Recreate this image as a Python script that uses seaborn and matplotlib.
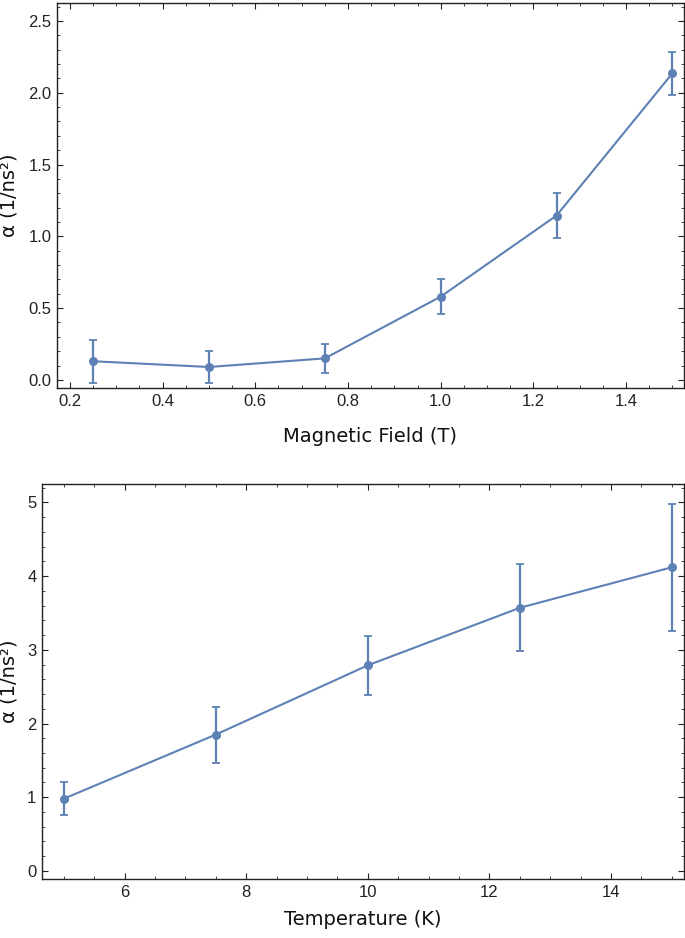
import matplotlib
matplotlib.use("Agg")
import numpy as np
import pandas as pd
import matplotlib.pyplot as plt
import seaborn as sns
from matplotlib.ticker import MultipleLocator, FormatStrFormatter

# === Data ===
field = [0.25, 0.50, 0.75, 1.00, 1.25, 1.50]
alpha_field = [0.13, 0.09, 0.15, 0.58, 1.145, 2.135]
err_field = [0.15, 0.11, 0.10, 0.12, 0.16, 0.15]

temperature = [5.0, 7.5, 10.0, 12.5, 15.0]
alpha_temp = [0.98, 1.85, 2.79, 3.57, 4.12]
err_temp = [0.225, 0.38, 0.40, 0.59, 0.86]

COLOR = '#5E81B5'

sns.set_style('ticks')
plt.rcParams['font.family'] = ['DejaVu Sans']

fig = plt.figure(figsize=(6.85, 9.38), dpi=100)
ax1 = fig.add_axes([0.0832, 0.5864, 0.9153, 0.4104])
ax2 = fig.add_axes([0.0613, 0.0629, 0.9372, 0.4211])


def draw(ax, x, y, e, xlabel):
    df = pd.DataFrame({'x': x, 'y': y})
    ax.errorbar(x, y, yerr=e, fmt='none', ecolor=COLOR, elinewidth=1.6,
                capsize=3, capthick=1.3, zorder=2)
    sns.lineplot(data=df, x='x', y='y', ax=ax, color=COLOR, linewidth=1.5,
                 marker='o', markersize=6.5, markeredgewidth=0, zorder=3)
    ax.set_xlabel(xlabel, fontsize=14, color='#111111')
    ax.set_ylabel('α (1/ns²)', fontsize=14, color='#111111')
    for s in ax.spines.values():
        s.set_visible(True)
        s.set_linewidth(1.0)
        s.set_color('#222222')
    ax.tick_params(which='both', direction='in', top=True, right=True,
                   labeltop=False, labelright=False, color='#222222')
    ax.tick_params(which='major', length=4, width=0.8, labelsize=12,
                   labelcolor='#222222', pad=4)
    ax.tick_params(which='minor', length=2.2, width=0.6)


draw(ax1, field, alpha_field, err_field, 'Magnetic Field (T)')
ax1.set_xlim(0.172, 1.525)
ax1.set_ylim(-0.056, 2.625)
ax1.xaxis.set_major_locator(MultipleLocator(0.2))
ax1.xaxis.set_minor_locator(MultipleLocator(0.05))
ax1.yaxis.set_major_locator(MultipleLocator(0.5))
ax1.yaxis.set_minor_locator(MultipleLocator(0.1))
ax1.xaxis.set_major_formatter(FormatStrFormatter('%.1f'))
ax1.yaxis.set_major_formatter(FormatStrFormatter('%.1f'))
ax1.yaxis.set_label_coords(-0.062, 0.5)
ax1.xaxis.set_label_coords(0.5, -0.101)

draw(ax2, temperature, alpha_temp, err_temp, 'Temperature (K)')
ax2.set_xlim(4.64, 15.2)
ax2.set_ylim(-0.11, 5.25)
ax2.xaxis.set_major_locator(MultipleLocator(2))
ax2.xaxis.set_minor_locator(MultipleLocator(0.5))
ax2.yaxis.set_major_locator(MultipleLocator(1))
ax2.yaxis.set_minor_locator(MultipleLocator(0.2))
ax2.yaxis.set_label_coords(-0.037, 0.5)
ax2.xaxis.set_label_coords(0.5, -0.078)

for ax in (ax1, ax2):
    for lab in ax.get_xticklabels() + ax.get_yticklabels():
        lab.set_family(['Liberation Sans', 'DejaVu Sans'])

fig.savefig('out.png', dpi=100)
